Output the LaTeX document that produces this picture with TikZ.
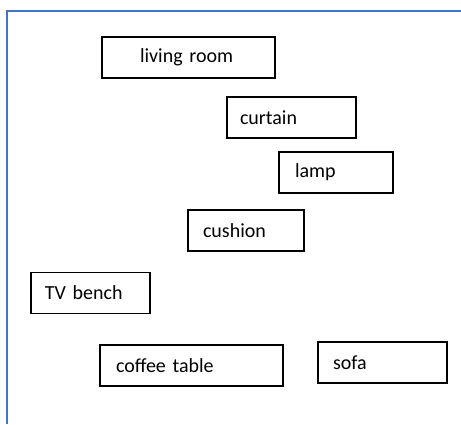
\documentclass[tikz,border=0pt]{standalone}
\usepackage{fontspec}
\setmainfont{Carlito}
\definecolor{framecol}{HTML}{4472C4}
\tikzset{
  itembox/.style={draw=black, line width=1.3pt, rectangle,
    minimum height=41pt, inner ysep=0pt, align=left,
    font=\fontsize{20}{24}\selectfont, anchor=center},
  framelines/.style={draw=framecol, line width=1.5pt},
}
\begin{document}
\begin{tikzpicture}[x=1pt,y=1pt]
\useasboundingbox (0,0) rectangle (461,424);
\draw[framelines] (7,0) -- (7,413) -- (461,413);
\node[itembox, inner xsep=38pt, text width=97pt] (living) at (188.5,366.5) {living room};
\node[itembox, inner xsep=13pt, text width=103pt] (curtain) at (291.5,306.5) {curtain};
\node[itembox, inner xsep=16pt, text width=82pt] (lamp) at (336,251.5) {lamp};
\node[itembox, inner xsep=15pt, text width=86pt] (cushion) at (246,193.5) {cushion};
\node[itembox, inner xsep=14pt, text width=91pt] (tvbench) at (90.5,131) {TV bench};
\node[itembox, inner xsep=16pt, text width=151pt] (coffee) at (191.5,58.5) {coffee table};
\node[itembox, inner xsep=15pt, text width=99pt] (sofa) at (382.5,61.5) {sofa};
\end{tikzpicture}
\end{document}
